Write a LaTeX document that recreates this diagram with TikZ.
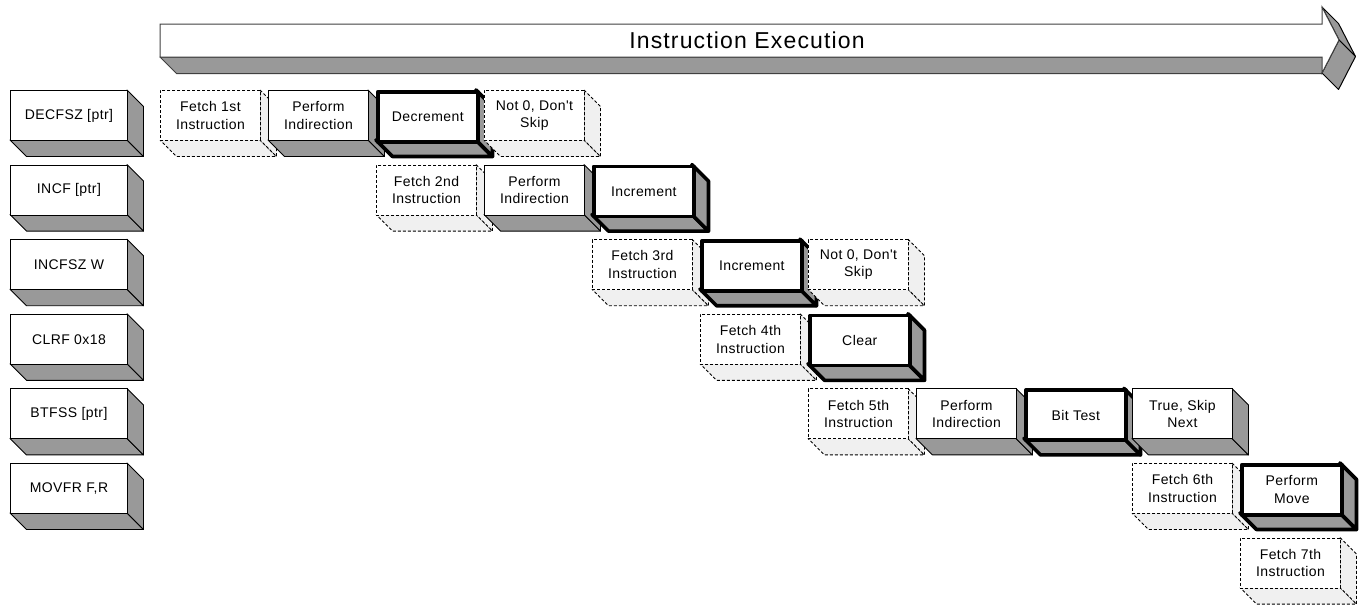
\documentclass[tikz,border=0pt]{standalone}
\usepackage{fontspec}
\setmainfont{Liberation Sans}
\newfontfamily\boxfam[LetterSpace=3]{Liberation Sans}
\newfontfamily\titlefam[LetterSpace=5]{Liberation Sans}
\definecolor{facegray}{HTML}{999999}
\definecolor{lightface}{HTML}{F0F0F0}
\definecolor{arrowline}{HTML}{404040}
\def\dep{16.5}
\newcommand\cubox[6]{% #1 kind, #2 name, #3 x, #4 y, #5 width, #6 text
  \filldraw[#1face] ({#3},{#4+50}) -- ({#3+#5},{#4+50}) -- ({#3+#5+\dep},{#4+50+\dep}) -- ({#3+\dep},{#4+50+\dep}) -- cycle;
  \filldraw[#1face] ({#3+#5},{#4}) -- ({#3+#5+\dep},{#4+\dep}) -- ({#3+#5+\dep},{#4+50+\dep}) -- ({#3+#5},{#4+50}) -- cycle;
  \node[#1front, minimum width=#5pt, minimum height=50pt, anchor=north west] (#2) at ({#3},{#4}) {#6};
}
\tikzset{
  boxtext/.style={align=center, inner sep=0pt, font=\boxfam\fontsize{14}{17.7}\selectfont},
  solidface/.style={fill=facegray, draw=black, line width=0.9pt, line join=round},
  solidfront/.style={boxtext, fill=white, draw=black, line width=0.9pt},
  boldface/.style={fill=facegray, draw=black, line width=3.6pt, line join=round},
  boldfront/.style={boxtext, fill=white, draw=black, line width=3.6pt, line join=round},
  dashface/.style={fill=lightface, draw=black, line width=0.9pt, dash pattern=on 3pt off 2pt},
  dashfront/.style={boxtext, fill=white, draw=black, line width=0.9pt, dash pattern=on 3pt off 2pt},
  arrowface/.style={fill=facegray, draw=arrowline, line width=1pt, line join=round},
}
\begin{document}
\begin{tikzpicture}[x=1pt, y=-1pt]
\useasboundingbox (0,0) rectangle (1359,605);
% big arrow
\filldraw[arrowface] (160,57) -- (1322,57) -- (1338.5,73.5) -- (176.5,73.5) -- cycle;
\filldraw[arrowface, draw=black] (1322,7) -- (1338.5,23.5) -- (1355.5,56.5) -- (1339,40) -- cycle;
\filldraw[arrowface, draw=black] (1339,40) -- (1355.5,56.5) -- (1338.5,89.5) -- (1322,73) -- cycle;
\filldraw[fill=white, draw=arrowline, line width=1pt, line join=miter] (160,24) -- (1322,24) -- (1322,7) -- (1339,40) -- (1322,73) -- (1322,57) -- (160,57) -- cycle;
\node[font=\titlefam\fontsize{23}{28}\selectfont] (title) at (747,40.5) {Instruction Execution};
% labels
\cubox{solid}{lab1}{10}{90}{117}{DECFSZ [ptr]}
\cubox{solid}{lab2}{10}{164.6}{117}{INCF [ptr]}
\cubox{solid}{lab3}{10}{239.2}{117}{INCFSZ W}
\cubox{solid}{lab4}{10}{313.8}{117}{CLRF 0x18}
\cubox{solid}{lab5}{10}{388.4}{117}{BTFSS [ptr]}
\cubox{solid}{lab6}{10}{463}{117}{MOVFR F,R}
% row 1
\cubox{dash}{r1a}{160}{90}{100}{Fetch 1st\\Instruction}
\cubox{solid}{r1b}{268}{90}{100}{Perform\\Indirection}
\cubox{bold}{r1c}{376}{90}{100}{Decrement}
\cubox{dash}{r1d}{484}{90}{100}{Not 0, Don't\\Skip}
% row 2
\cubox{dash}{r2a}{376}{164.6}{100}{Fetch 2nd\\Instruction}
\cubox{solid}{r2b}{484}{164.6}{100}{Perform\\Indirection}
\cubox{bold}{r2c}{592}{164.6}{100}{Increment}
% row 3
\cubox{dash}{r3a}{592}{239.2}{100}{Fetch 3rd\\Instruction}
\cubox{bold}{r3b}{700}{239.2}{100}{Increment}
\cubox{dash}{r3c}{808}{239.2}{100}{Not 0, Don't\\Skip}
% row 4
\cubox{dash}{r4a}{700}{313.8}{100}{Fetch 4th\\Instruction}
\cubox{bold}{r4b}{808}{313.8}{100}{Clear}
% row 5
\cubox{dash}{r5a}{808}{388.4}{100}{Fetch 5th\\Instruction}
\cubox{solid}{r5b}{916}{388.4}{100}{Perform\\Indirection}
\cubox{bold}{r5c}{1024}{388.4}{100}{Bit Test}
\cubox{solid}{r5d}{1132}{388.4}{100}{True, Skip\\Next}
% row 6
\cubox{dash}{r6a}{1132}{463}{100}{Fetch 6th\\Instruction}
\cubox{bold}{r6b}{1240}{463}{100}{Perform\\Move}
% row 7
\cubox{dash}{r7a}{1240}{537.6}{100}{Fetch 7th\\Instruction}
\end{tikzpicture}
\end{document}
